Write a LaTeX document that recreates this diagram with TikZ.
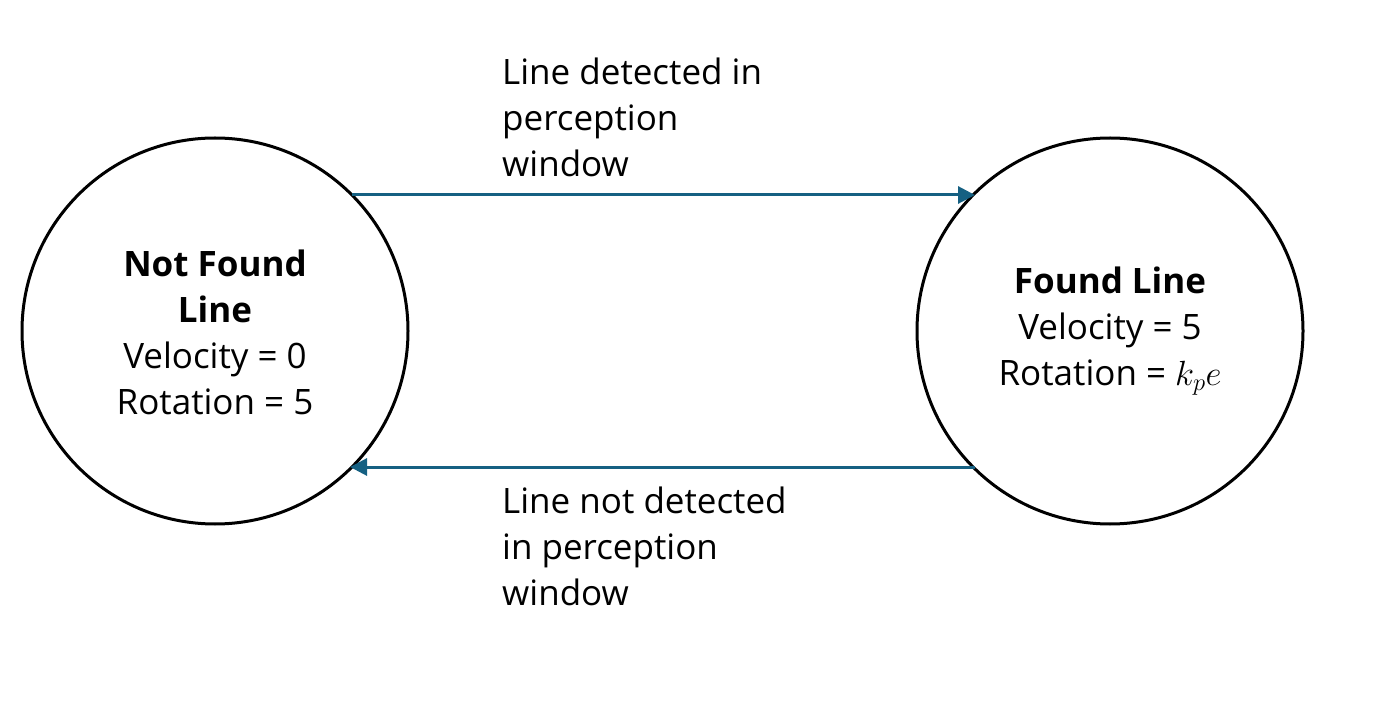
\documentclass[tikz,border=0pt]{standalone}
\usepackage{fix-cm}
\usepackage{fontspec}
\setmainfont{Open Sans}
\usetikzlibrary{arrows.meta}
\definecolor{arrowblue}{RGB}{21,96,130}
\tikzset{
  state/.style={circle,draw=black,line width=3pt,minimum size=386pt,inner sep=0pt},
  txt/.style={font=\fontsize{35pt}{46pt}\selectfont,align=center,inner sep=0pt},
  lbl/.style={font=\fontsize{35pt}{46pt}\selectfont,align=left,anchor=north west,inner sep=0pt},
  trans/.style={draw=arrowblue,line width=3pt,-{Triangle[length=17pt,width=17pt]}}
}
\begin{document}
\begin{tikzpicture}[x=1pt,y=-1pt]
\useasboundingbox (0,0) rectangle (1389,708);
\node[state] (nf) at (215,331) {};
\node[state] (fl) at (1110,331) {};
\node[txt] (nft) at (215,332) {\textbf{Not Found}\\\textbf{Line}\\Velocity = 0\\Rotation = 5};
\node[txt] (flt) at (1110,331) {\textbf{Found Line}\\Velocity = 5\\Rotation = $k_pe$};
\coordinate (a1) at (352,195);
\coordinate (a2) at (975,195);
\coordinate (b1) at (975,467);
\coordinate (b2) at (350,467);
\draw[trans] (a1) -- (a2);
\draw[trans] (b1) -- (b2);
\node[lbl] (top) at (502,58) {Line detected in\\perception\\window};
\node[lbl] (bot) at (502,487) {Line not detected\\in perception\\window};
\end{tikzpicture}
\end{document}
